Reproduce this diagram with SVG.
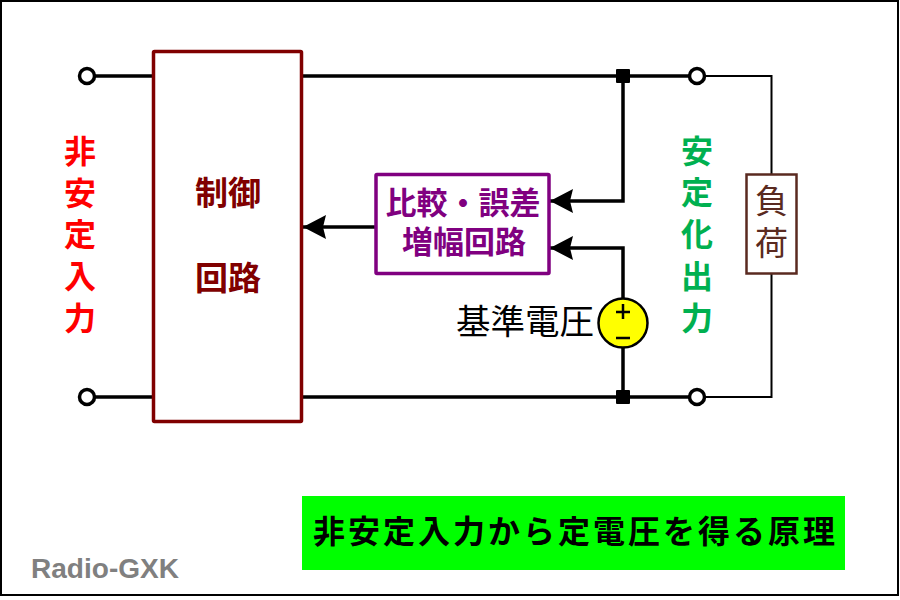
<svg xmlns="http://www.w3.org/2000/svg" width="900" height="600" viewBox="0 0 900 600">
<defs>
<marker id="arr" markerUnits="userSpaceOnUse" markerWidth="24" markerHeight="26" refX="23" refY="12" orient="auto"><path d="M23 12L0 0L3 12L0 24Z" fill="#000"/></marker>
</defs>
<style>
text{font-family:"Liberation Sans","Noto Sans CJK JP",sans-serif;text-anchor:middle}
.w{fill:none;stroke:#000;stroke-width:3.5}
.t{fill:none;stroke:#000;stroke-width:2}
.term{fill:#fff;stroke:#000;stroke-width:3.5}
.b{font-weight:700}
</style>
<rect x="1" y="1" width="897" height="594" fill="#fff" stroke="#000" stroke-width="2"/>
<g id="connectors">
<path class="w" d="M87 76H153M87 397H153M302 76H697M302 397H697"/>
<path class="w" d="M623 76V201H550" marker-end="url(#arr)"/>
<path class="w" d="M623 298V248H550" marker-end="url(#arr)"/>
<path class="w" d="M623 348V397"/>
<path class="w" d="M375 227H303" marker-end="url(#arr)"/>
<path class="t" d="M697 76H771.500V174M771.500 274V397H697"/>
<rect x="616" y="69" width="14" height="14" rx="1"/>
<rect x="616" y="390" width="14" height="14" rx="1"/>
</g>
<g id="term-in-top"><circle class="term" cx="87" cy="76" r="7.500"/></g>
<g id="term-in-bottom"><circle class="term" cx="87" cy="397" r="7.500"/></g>
<g id="term-out-top"><circle class="term" cx="697" cy="76" r="7.500"/></g>
<g id="term-out-bottom"><circle class="term" cx="697" cy="397" r="7.500"/></g>
<g id="control"><rect x="153.500" y="51.500" width="148" height="370" fill="#fff" stroke="#800000" stroke-width="3.500" rx="1"/>
<text class="b" x="228" y="205" font-size="33" fill="#800000">制御</text>
<text class="b" x="228" y="290" font-size="33" fill="#800000">回路</text></g>
<g id="compare"><rect x="376" y="174.500" width="173" height="99" fill="#fff" stroke="#800080" stroke-width="3.500" rx="1"/>
<text class="b" x="463" y="214" font-size="31" fill="#800080" textLength="155" lengthAdjust="spacing">比較・誤差</text>
<text class="b" x="464" y="253" font-size="31" fill="#800080">増幅回路</text></g>
<g id="vref"><circle cx="623" cy="323" r="24.500" fill="#ff0" stroke="#000" stroke-width="2.500"/>
<path d="M623 304V319M616 312H630M616 338H630" fill="none" stroke="#000" stroke-width="2.500"/>
<text x="525" y="334" font-size="34.500">基準電圧</text></g>
<g id="load"><rect x="746.500" y="174.500" width="50" height="99" fill="#fff" stroke="#5a2a20" stroke-width="2.500"/>
<text x="771.500" y="213" font-size="33" fill="#5a2a20">負</text>
<text x="771.500" y="255" font-size="33" fill="#5a2a20">荷</text></g>
<g id="label-in" fill="#ff0000" font-size="32">
<text class="b" x="80" y="163">非</text><text class="b" x="80" y="205">安</text><text class="b" x="80" y="246">定</text><text class="b" x="80" y="288">入</text><text class="b" x="80" y="330">力</text></g>
<g id="label-out" fill="#00b050" font-size="32">
<text class="b" x="697" y="163">安</text><text class="b" x="697" y="204">定</text><text class="b" x="697" y="246">化</text><text class="b" x="697" y="288">出</text><text class="b" x="697" y="330">力</text></g>
<g id="title"><rect x="302" y="496" width="543" height="74" fill="#00ff00"/>
<text class="b" x="574" y="543" font-size="32" fill="#000" textLength="522" lengthAdjust="spacing">非安定入力から定電圧を得る原理</text></g>
<text class="b" x="105" y="578" font-size="27" fill="#808080" textLength="148" lengthAdjust="spacingAndGlyphs">Radio-GXK</text>
</svg>
